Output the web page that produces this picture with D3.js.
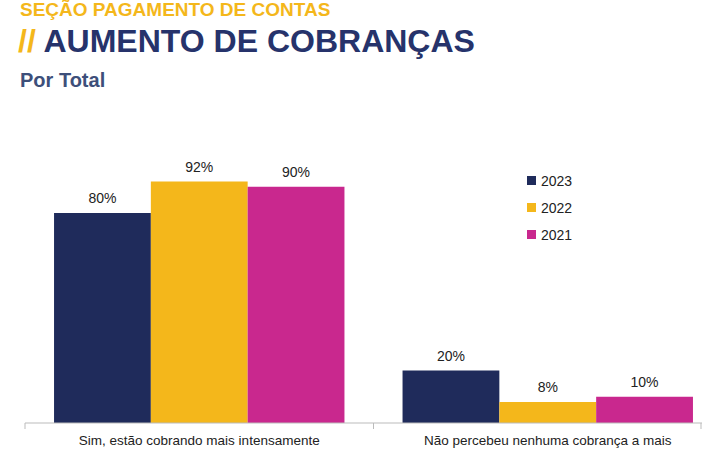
<!DOCTYPE html>
<html><head><meta charset="utf-8">
<script src="https://cdn.jsdelivr.net/npm/d3@7"></script>
<style>body{margin:0;background:#fff;font-family:Arial,"Liberation Sans",sans-serif}</style>
</head><body>
<svg id="c" width="702" height="464"></svg>
<script>
const categories = ["Sim, estão cobrando mais intensamente", "Não percebeu nenhuma cobrança a mais"];
const years = ["2023", "2022", "2021"];
const values2023 = [80, 20];
const values2022 = [92, 8];
const values2021 = [90, 10];
const colors = ["#1f2b5b", "#f4b71b", "#c9288e"];

const series = [values2023, values2022, values2021];
const svg = d3.select("#c");
const base = 423;

svg.append("text").attr("x", 20).attr("y", 16).attr("fill", "#f4b71b")
  .attr("font-size", 19).attr("font-weight", "bold").text("SEÇÃO PAGAMENTO DE CONTAS");
const t = svg.append("text").attr("x", 18).attr("y", 52).attr("font-size", 32).attr("font-weight", "bold");
t.append("tspan").attr("fill", "#f4b71b").text("// ");
t.append("tspan").attr("fill", "#26336b").text("AUMENTO DE COBRANÇAS");
svg.append("text").attr("x", 20).attr("y", 87).attr("fill", "#3d4f7a")
  .attr("font-size", 20).attr("font-weight", "bold").text("Por Total");

const x0 = d3.scaleBand().domain(categories).range([25, 722]);
const x1 = d3.scaleBand().domain(years).range([0, x0.bandwidth()]).paddingOuter(0.3);
const y = d3.scaleLinear().domain([0, 100]).range([base, base - 262.5]);

categories.forEach((c, ci) => {
  years.forEach((yr, si) => {
    const v = series[si][ci];
    const bx = x0(c) + x1(yr);
    svg.append("rect").attr("x", bx).attr("y", y(v)).attr("width", x1.bandwidth())
      .attr("height", y(0) - y(v)).attr("fill", colors[si]);
    svg.append("text").attr("x", bx + x1.bandwidth() / 2).attr("y", y(v) - 10)
      .attr("text-anchor", "middle").attr("font-size", 14).attr("fill", "#222").text(v + "%");
  });
  svg.append("text").attr("x", x0(c) + x0.bandwidth() / 2).attr("y", 445)
    .attr("text-anchor", "middle").attr("font-size", 13.5).attr("fill", "#222").text(c);
});

svg.append("line").attr("x1", 25).attr("x2", 702).attr("y1", base).attr("y2", base).attr("stroke", "#bbb");
[25, x0(categories[1]), 701].forEach(px => svg.append("line").attr("x1", px).attr("x2", px)
  .attr("y1", base).attr("y2", base + 6).attr("stroke", "#bbb"));

years.forEach((yr, i) => {
  const ly = 181 + i * 27;
  svg.append("rect").attr("x", 527).attr("y", ly - 5).attr("width", 9).attr("height", 9).attr("fill", colors[i]);
  svg.append("text").attr("x", 541).attr("y", ly + 5).attr("font-size", 14).attr("fill", "#222").text(yr);
});
</script>
</body></html>
